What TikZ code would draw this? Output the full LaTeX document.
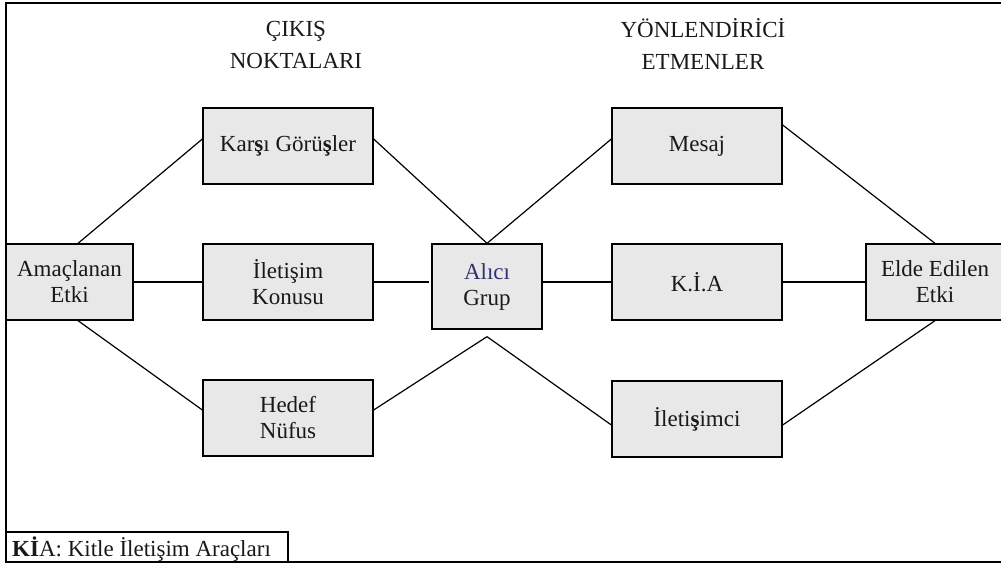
\documentclass[tikz,border=0pt]{standalone}
\usepackage{fontspec}
\setmainfont{Liberation Serif}
\usetikzlibrary{calc}
\definecolor{boxfill}{RGB}{232,232,232}
\definecolor{navytext}{RGB}{50,50,110}
\tikzset{
  box/.style={draw=black, line width=1.3pt, fill=boxfill, inner sep=0pt, align=center,
    font=\fontsize{23}{26}\selectfont, text=black!90},
  wide/.style={minimum width=170pt, minimum height=76pt},
  conn/.style={draw=black, line width=1.2pt},
  title/.style={align=center, font=\fontsize{23}{32}\selectfont, text=black!90},
}
\begin{document}
\begin{tikzpicture}[x=1pt,y=-1pt]
\useasboundingbox (0,0) rectangle (1001,565);
\draw[line width=1.3pt] (1010,3) -- (6,3) -- (6,562) -- (1010,562);

\node[title] (t1) at (296,45) {ÇIKIŞ\\NOKTALARI};
\node[title] (t2) at (703,44) {YÖNLENDİRİCİ\\ETMENLER};

\node[box, minimum width=127pt, minimum height=76pt] (a) at (69.5,282) {Amaçlanan\\Etki};
\node[box, wide] (k) at (288,146) {Kar\textbf{ş}ı Görü\textbf{ş}ler};
\node[box, wide] (i) at (288,282) {İletişim\\Konusu};
\node[box, wide] (h) at (288,418) {Hedef\\Nüfus};
\node[box, minimum width=110pt, minimum height=85pt] (g) at (487,286.5) {{\color{navytext}Alıcı}\\Grup};
\node[box, wide] (m) at (697,146) {Mesaj};
\node[box, wide] (kia) at (697,282) {K.İ.A};
\node[box, wide] (c) at (697,419) {İleti\textbf{ş}imci};
\node[box, minimum width=138pt, minimum height=76pt] (e) at (935,282) {Elde Edilen\\Etki};

\coordinate (gb) at ([yshift=-7pt]g.south);

\draw[conn] ([xshift=8.5pt]a.north) -- ([yshift=7pt]k.west);
\draw[conn] ([yshift=7pt]k.east) -- (g.north);
\draw[conn] (g.north) -- ([yshift=7pt]m.west);
\draw[conn] ([yshift=21pt]m.east) -- (e.north);
\draw[conn] (a.east) -- (i.west);
\draw[conn] (i.east) -- ([xshift=-2pt]i.east -| g.west);
\draw[conn] (kia.west -| g.east) -- (kia.west);
\draw[conn] (kia.east) -- (e.west);
\draw[conn] ([xshift=8.5pt]a.south) -- ([yshift=8pt]h.west);
\draw[conn] ([yshift=8pt]h.east) -- (gb);
\draw[conn] (gb) -- ([yshift=-6pt]c.west);
\draw[conn] ([yshift=-6pt]c.east) -- (e.south);

\draw[line width=1.3pt] (6,532) rectangle (288,562);
\node[anchor=base west, inner sep=0pt, font=\fontsize{23}{26}\selectfont, text=black!90] (leg) at (12,556) {\textbf{Kİ}A: Kitle İletişim Araçları};
\end{tikzpicture}
\end{document}
